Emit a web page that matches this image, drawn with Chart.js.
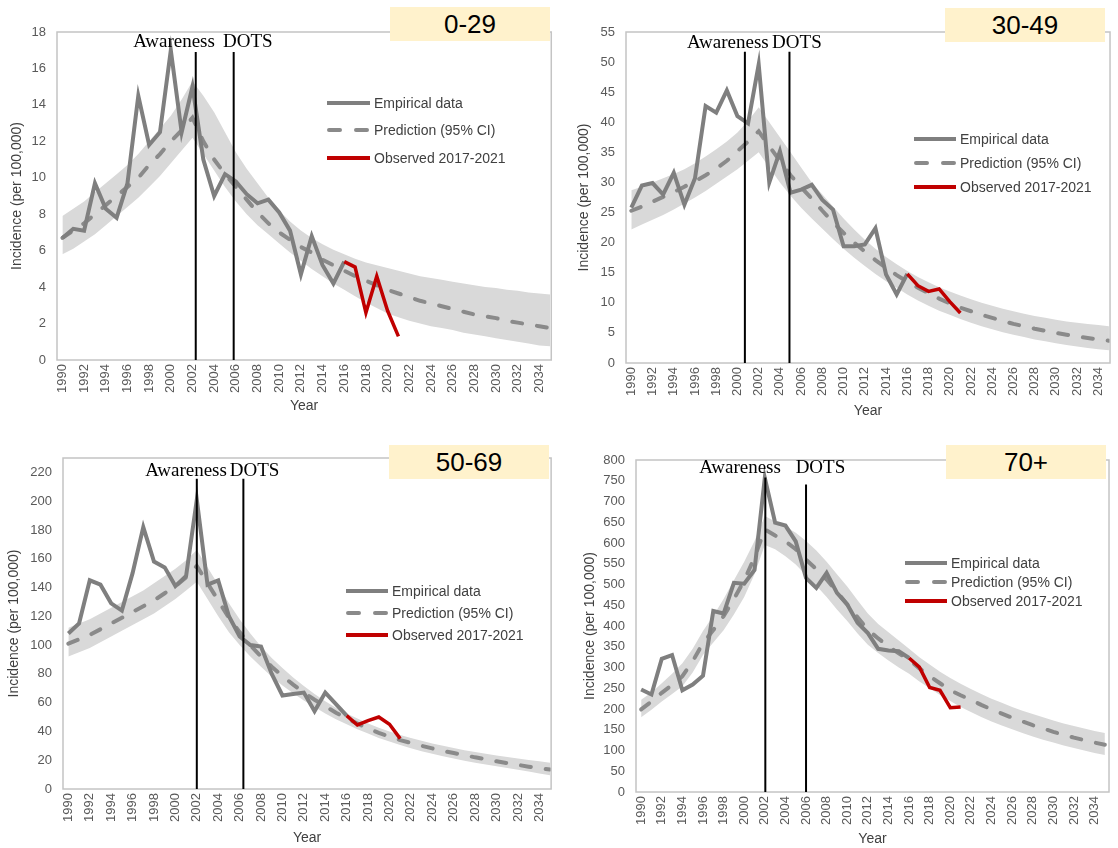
<!DOCTYPE html>
<html>
<head>
<meta charset="utf-8">
<script src="https://cdn.jsdelivr.net/npm/chart.js@4"></script>
<style>
  body { margin: 0; background: #fff; width: 1118px; height: 848px; position: relative; overflow: hidden; font-family: "Liberation Sans", Arial, sans-serif; }
  canvas { position: absolute; }
  .tag { position: absolute; width: 160px; height: 34px; line-height: 34px; background: #fff2cc; color: #000; font-size: 26px; text-align: center; }
</style>
</head>
<body>
<canvas id="c1" width="559" height="420" style="left:0;top:0"></canvas>
<canvas id="c2" width="559" height="420" style="left:559px;top:0"></canvas>
<canvas id="c3" width="559" height="428" style="left:0;top:420px"></canvas>
<canvas id="c4" width="559" height="428" style="left:559px;top:420px"></canvas>
<div class="tag" style="left:390px;top:7px">0-29</div>
<div class="tag" style="left:945px;top:8px">30-49</div>
<div class="tag" style="left:389px;top:445px">50-69</div>
<div class="tag" style="left:946px;top:445px">70+</div>
<script>
var years = [1990, 1991, 1992, 1993, 1994, 1995, 1996, 1997, 1998, 1999,
             2000, 2001, 2002, 2003, 2004, 2005, 2006, 2007, 2008, 2009,
             2010, 2011, 2012, 2013, 2014, 2015, 2016, 2017, 2018, 2019,
             2020, 2021, 2022, 2023, 2024, 2025, 2026, 2027, 2028, 2029,
             2030, 2031, 2032, 2033, 2034, 2035];
var tickYears = [1990, 1992, 1994, 1996, 1998, 2000, 2002, 2004, 2006, 2008, 2010, 2012,
                 2014, 2016, 2018, 2020, 2022, 2024, 2026, 2028, 2030, 2032, 2034];

// 0-29 (empirical 1990-2016, observed 2016-2021, prediction + 95% CI 1990-2035)
var emp0_29 = [6.7, 7.2, 7.1, 9.7, 8.3, 7.8, 9.7, 14.5, 11.8, 12.5, 17.0, 12.5, 15.0, 11.0, 9.0, 10.2, 9.8, 9.1, 8.6, 8.8, 8.1, 7.1, 4.7, 6.8, 5.2, 4.2, 5.4];
var obs0_29 = [5.4, 5.1, 2.6, 4.6, 2.7, 1.3];
var pred0_29 = [6.7, 7.1, 7.5, 8.0, 8.5, 9.0, 9.5, 10.0, 10.7, 11.3, 12.0, 12.6, 13.3,
                12.0, 11.0, 10.2, 9.5, 8.8, 8.1, 7.5, 7.0, 6.6, 6.2,
                5.9, 5.5, 5.2, 4.9, 4.6, 4.35, 4.1, 3.85, 3.65, 3.45,
                3.25, 3.1, 2.95, 2.8, 2.65, 2.5, 2.4, 2.3, 2.15, 2.05,
                1.95, 1.85, 1.75];
var hi0_29 = [7.9, 8.3, 8.7, 9.2, 9.7, 10.2, 10.7, 11.3, 12.0, 12.7, 13.4, 14.3, 15.3,
              14.5, 13.6, 12.5, 11.4, 10.5, 9.7, 8.9, 8.2, 7.6, 7.1,
              6.7, 6.35, 6.05, 5.8, 5.55, 5.35, 5.2, 5.05, 4.9, 4.75,
              4.6, 4.5, 4.4, 4.3, 4.2, 4.1, 4.0, 3.95, 3.85, 3.8,
              3.7, 3.65, 3.6];
var lo0_29 = [5.8, 6.1, 6.5, 6.9, 7.4, 7.9, 8.4, 8.9, 9.5, 10.1, 10.8, 11.5, 12.2,
              11.3, 10.4, 9.5, 8.7, 8.0, 7.4, 6.9, 6.4, 5.9, 5.45,
              5.0, 4.6, 4.2, 3.85, 3.5, 3.15, 2.85, 2.55, 2.35, 2.15,
              2.0, 1.85, 1.75, 1.65, 1.5, 1.4, 1.3, 1.2, 1.1, 1.0,
              0.9, 0.8, 0.75];

// 30-49
var emp30_49 = [25.8, 29.5, 29.9, 28.0, 31.6, 26.3, 30.7, 42.7, 41.6, 45.3, 41.0, 39.8, 49.6, 30.0, 35.2, 28.3, 28.8, 29.6, 27.1, 25.5, 19.4, 19.4, 19.7, 22.4, 14.7, 11.4, 14.8];
var obs30_49 = [14.8, 12.85, 11.9, 12.3, 10.2, 8.3];
var pred30_49 = [25.3, 26.0, 26.8, 27.6, 28.4, 29.3, 30.2, 31.2, 32.3, 33.6, 35.2, 36.8, 38.5,
                 36.0, 33.6, 31.2, 29.2, 27.3, 25.3, 23.4, 21.6, 20.0, 18.5,
                 17.1, 15.8, 14.6, 13.5, 12.5, 11.6, 10.7, 9.9, 9.2, 8.6,
                 8.0, 7.5, 7.0, 6.5, 6.1, 5.7, 5.35, 5.0, 4.7, 4.4,
                 4.15, 3.9, 3.7];
var hi30_49 = [28.7, 29.3, 30.0, 30.7, 31.4, 32.2, 33.2, 34.3, 35.5, 36.8, 38.3, 40.2, 42.5,
               40.0, 37.5, 35.0, 32.5, 30.0, 28.0, 26.0, 24.0, 22.2, 20.5,
               19.0, 17.6, 16.4, 15.3, 14.3, 13.4, 12.6, 11.9, 11.2, 10.6,
               10.0, 9.5, 9.0, 8.6, 8.2, 7.8, 7.5, 7.2, 6.9, 6.7,
               6.5, 6.3, 6.1];
var lo30_49 = [22.2, 23.0, 23.8, 24.6, 25.5, 26.5, 27.5, 28.6, 29.8, 31.0, 32.2, 33.6, 35.0,
               32.5, 30.0, 27.8, 25.8, 24.0, 22.3, 20.6, 19.0, 17.5, 16.1,
               14.8, 13.6, 12.5, 11.4, 10.4, 9.5, 8.7, 8.0, 7.3, 6.7,
               6.1, 5.6, 5.1, 4.7, 4.3, 3.9, 3.6, 3.3, 3.0, 2.75,
               2.5, 2.3, 2.1];

// 50-69
var emp50_69 = [108, 115, 145, 142, 129, 124, 150, 182, 158, 154, 141, 148, 201, 142, 145, 120, 106, 100, 99, 80, 65, 66, 67, 54, 67, 59, 51];
var obs50_69 = [51, 44.5, 47.5, 50, 45, 35];
var pred50_69 = [101, 104, 107, 111, 115, 119, 123, 127, 131, 136, 141, 147, 155,
                 143, 131, 119, 109, 100, 92, 85, 78.5, 72.5, 67,
                 62, 57.5, 53, 49, 45.5, 42, 39, 36.3, 34, 32,
                 30, 28.2, 26.5, 25, 23.5, 22, 20.7, 19.3, 18, 16.8,
                 15.5, 14.3, 13.5];
var hi50_69 = [112, 115, 118, 122, 126, 130, 134, 138, 143, 148, 153, 159, 166,
               154, 142, 129, 118, 108, 99, 91, 84, 77.5, 71.5,
               66, 61, 56.5, 52.5, 49, 45.5, 42.5, 40, 37.5, 35.5,
               33.5, 31.7, 30, 28.5, 27, 25.7, 24.5, 23.3, 22.2, 21.2,
               20.2, 19.2, 18.3];
var lo50_69 = [92, 95, 98, 102, 106, 110, 114, 118, 122, 127, 132, 138, 144,
               132, 120, 109, 100, 92, 85, 78, 72, 66.5, 61.5,
               57, 52.5, 48.5, 45, 41.5, 38.5, 35.5, 33, 30.5, 28.3,
               26.3, 24.5, 22.8, 21.2, 19.7, 18.3, 17, 15.8, 14.6, 13.4,
               12.2, 10.8, 9.5];

// 70+
var emp70 = [247, 235, 321, 330, 245, 259, 280, 436, 430, 504, 502, 535, 757, 649, 642, 604, 516, 492, 528, 480, 452, 408, 383, 345, 341, 339, 323];
var obs70 = [323, 301, 252, 245, 203, 205];
var pred70 = [199, 218, 239, 258, 279, 315, 359, 390, 424, 465, 510, 565, 633,
              618, 604, 585, 560, 537, 512, 482, 452, 421, 391,
              370, 351, 334, 319, 298, 279, 262, 245, 233, 222,
              210, 199, 189, 179, 170, 161, 153, 145, 138, 131,
              125, 119, 114];
var hi70 = [222, 240, 262, 285, 310, 345, 388, 425, 465, 510, 555, 605, 665,
            652, 640, 625, 605, 582, 555, 525, 495, 462, 430,
            405, 385, 365, 345, 325, 307, 290, 275, 261, 248,
            236, 225, 215, 205, 196, 188, 180, 172, 165, 159,
            153, 147, 142];
var lo70 = [180, 198, 218, 236, 255, 288, 330, 360, 390, 428, 470, 525, 595,
            585, 568, 548, 522, 497, 470, 440, 412, 382, 355,
            335, 317, 300, 285, 266, 250, 234, 219, 205, 193,
            181, 170, 160, 151, 142, 134, 126, 119, 112, 106,
            100, 94, 89];

var legendItems = [
  { text: 'Empirical data', color: '#7f7f7f', dash: [] },
  { text: 'Prediction (95% CI)', color: '#8a8a8a', dash: [11, 16] },
  { text: 'Observed 2017-2021', color: '#c00000', dash: [] }
];

// place a short series on the full year axis
function atYears(vals, from) {
  return years.map(function (y) {
    var i = y - from;
    return i >= 0 && i < vals.length ? vals[i] : null;
  });
}

var decor = {
  id: 'decor',
  afterDatasetsDraw: function (chart, args, o) {
    var ctx = chart.ctx, a = chart.chartArea, x = chart.scales.x, y = chart.scales.y;
    ctx.save();
    ctx.strokeStyle = '#c4c4c4';
    ctx.lineWidth = 1.5;
    ctx.strokeRect(a.left, a.top, a.right - a.left, a.bottom - a.top);

    ctx.strokeStyle = '#000';
    ctx.lineWidth = 2;
    o.lines.forEach(function (l) {
      var px = x.getPixelForValue(l.year);
      ctx.beginPath();
      ctx.moveTo(px, y.getPixelForValue(l.top));
      ctx.lineTo(px, a.bottom);
      ctx.stroke();
    });

    ctx.fillStyle = '#000';
    ctx.font = '19px "Liberation Serif", "Times New Roman", serif';
    ctx.textAlign = 'center';
    ctx.textBaseline = 'middle';
    o.labels.forEach(function (t) {
      ctx.fillText(t.text, x.getPixelForValue(t.year), y.getPixelForValue(t.value));
    });

    // legend
    var L = o.legend;
    ctx.font = '14px "Liberation Sans", Arial, sans-serif';
    ctx.textAlign = 'left';
    legendItems.forEach(function (it, i) {
      var ly = L.rows[i];
      ctx.strokeStyle = it.color;
      ctx.lineWidth = 4;
      ctx.lineCap = it.dash.length ? 'round' : 'butt';
      ctx.setLineDash(it.dash);
      ctx.beginPath();
      ctx.moveTo(it.dash.length ? L.x0 + 2 : L.x0, ly);
      ctx.lineTo(L.x1, ly);
      ctx.stroke();
      ctx.setLineDash([]);
      ctx.fillStyle = '#404040';
      ctx.fillText(it.text, L.tx, ly + 1);
    });
    ctx.restore();
  }
};

function makeChart(id, c) {
  return new Chart(document.getElementById(id), {
    type: 'line',
    data: {
      labels: years,
      datasets: [
        { data: c.hi, borderWidth: 0, pointRadius: 0, fill: false, order: 5 },
        { data: c.lo, borderWidth: 0, pointRadius: 0, fill: '-1', backgroundColor: '#d9d9d9', order: 5 },
        { data: c.pred, borderColor: '#8a8a8a', borderWidth: 4, borderDash: [10, 15], borderCapStyle: 'round', pointRadius: 0, fill: false, order: 3 },
        { data: atYears(c.emp, 1990), borderColor: '#7f7f7f', borderWidth: 4, pointRadius: 0, fill: false, order: 2 },
        { data: atYears(c.obs, 2016), borderColor: '#c00000', borderWidth: 3.5, pointRadius: 0, fill: false, order: 1 }
      ]
    },
    options: {
      responsive: false,
      animation: false,
      layout: { padding: { top: c.padTop, right: c.padRight, left: 0, bottom: 0 } },
      plugins: {
        legend: { display: false },
        tooltip: { enabled: false },
        decor: { lines: c.lines, labels: c.labels, legend: c.legend }
      },
      scales: {
        x: {
          type: 'linear',
          min: 1989.5,
          max: c.xMax,
          grid: { display: false, drawTicks: false },
          border: { display: false },
          afterBuildTicks: function (s) { s.ticks = tickYears.map(function (v) { return { value: v }; }); },
          afterFit: function (s) { s.height = c.xHeight; },
          ticks: {
            autoSkip: false, maxRotation: 90, minRotation: 90, padding: 4,
            color: '#595959', font: { size: 13, family: '"Liberation Sans", Arial, sans-serif' },
            callback: function (v) { return String(v); }
          },
          title: {
            display: true, text: 'Year', color: '#404040',
            font: { size: 14, family: '"Liberation Sans", Arial, sans-serif' },
            padding: { top: 0, bottom: c.xTitlePad }
          }
        },
        y: {
          min: 0,
          max: c.yMax,
          grid: { display: false, drawTicks: false },
          border: { display: false },
          afterFit: function (s) { s.width = c.yWidth; },
          ticks: {
            stepSize: c.step, includeBounds: false, padding: 11,
            color: '#595959', font: { size: 13, family: '"Liberation Sans", Arial, sans-serif' }
          },
          title: {
            display: true, text: 'Incidence (per 100,000)', color: '#404040',
            font: { size: 14, family: '"Liberation Sans", Arial, sans-serif' },
            padding: { top: c.yTitlePad, bottom: 0 }
          }
        }
      }
    },
    plugins: [decor]
  });
}

makeChart('c1', {
  emp: emp0_29, obs: obs0_29, pred: pred0_29, hi: hi0_29, lo: lo0_29,
  yMax: 18, step: 2, xMax: 2035.1,
  padTop: 32, padRight: 2, yWidth: 57, xHeight: 60, yTitlePad: 8.6, xTitlePad: 5,
  lines: [{ year: 2002.3, top: 16.9 }, { year: 2005.8, top: 16.9 }],
  labels: [{ text: 'Awareness', year: 2000.3, value: 17.45 }, { text: 'DOTS', year: 2007.1, value: 17.45 }],
  legend: { x0: 327, x1: 370, tx: 374, rows: [103, 130, 158] }
});

makeChart('c2', {
  emp: emp30_49, obs: obs30_49, pred: pred30_49, hi: hi30_49, lo: lo30_49,
  yMax: 55, step: 5, xMax: 2035.1,
  padTop: 32, padRight: 2, yWidth: 67, xHeight: 57, yTitlePad: 16.6, xTitlePad: 0,
  lines: [{ year: 2000.7, top: 51.7 }, { year: 2004.9, top: 51.7 }],
  labels: [{ text: 'Awareness', year: 1999.1, value: 53.25 }, { text: 'DOTS', year: 2005.6, value: 53.25 }],
  legend: { x0: 355, x1: 397, tx: 401, rows: [139, 163, 187] }
});

makeChart('c3', {
  emp: emp50_69, obs: obs50_69, pred: pred50_69, hi: hi50_69, lo: lo50_69,
  yMax: 230, step: 20, xMax: 2035.1,
  padTop: 38, padRight: 2, yWidth: 63, xHeight: 59, yTitlePad: 5.6, xTitlePad: 1.6,
  lines: [{ year: 2002.0, top: 215.6 }, { year: 2006.35, top: 215.6 }],
  labels: [{ text: 'Awareness', year: 2001.0, value: 221.2 }, { text: 'DOTS', year: 2007.4, value: 221.2 }],
  legend: { x0: 346, x1: 388, tx: 392, rows: [171, 193, 215] }
});

makeChart('c4', {
  emp: emp70, obs: obs70, pred: pred70, hi: hi70, lo: lo70,
  yMax: 800, step: 50, xMax: 2035.4,
  padTop: 40, padRight: 9, yWidth: 77, xHeight: 56, yTitlePad: 23, xTitlePad: 0,
  lines: [{ year: 2002.05, top: 758 }, { year: 2006.0, top: 741 }],
  labels: [{ text: 'Awareness', year: 1999.6, value: 780 }, { text: 'DOTS', year: 2007.4, value: 780 }],
  legend: { x0: 346, x1: 388, tx: 392, rows: [143, 162, 181] }
});
</script>
</body>
</html>
